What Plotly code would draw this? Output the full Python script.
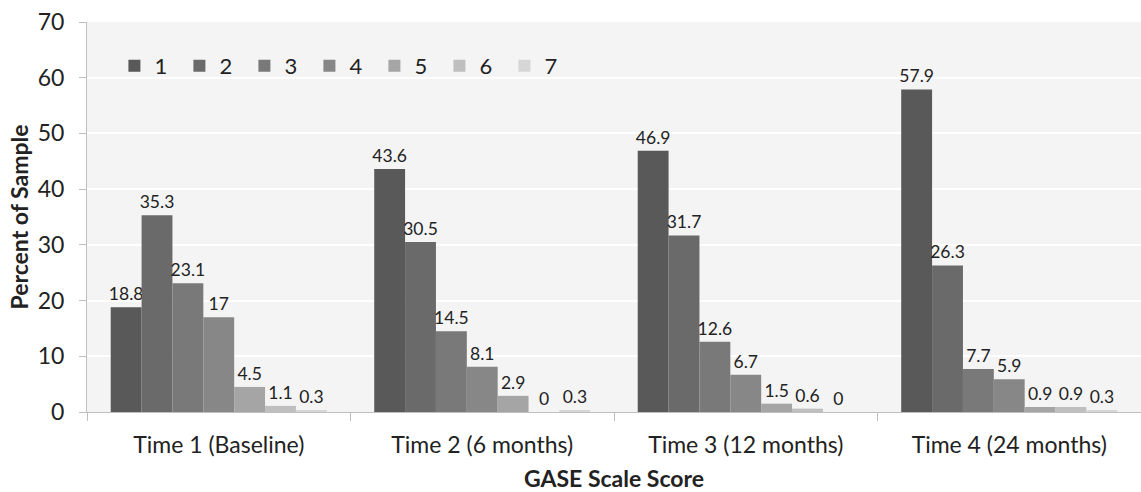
import plotly.graph_objects as go

categories = ["Time 1 (Baseline)", "Time 2 (6 months)", "Time 3 (12 months)", "Time 4 (24 months)"]
series_names = ["1", "2", "3", "4", "5", "6", "7"]
score1 = [18.8, 43.6, 46.9, 57.9]
score2 = [35.3, 30.5, 31.7, 26.3]
score3 = [23.1, 14.5, 12.6, 7.7]
score4 = [17, 8.1, 6.7, 5.9]
score5 = [4.5, 2.9, 1.5, 0.9]
score6 = [1.1, 0, 0.6, 0.9]
score7 = [0.3, 0.3, 0, 0.3]
series_values = [score1, score2, score3, score4, score5, score6, score7]
colors = ["#595959", "#6a6a6a", "#797979", "#878787", "#a5a5a5", "#bfbfbf", "#d6d6d6"]

FONT = "Lato"
fig = go.Figure()
for name, vals, col in zip(series_names, series_values, colors):
    fig.add_trace(go.Bar(
        x=categories, y=vals, name=name,
        marker=dict(color=col, line=dict(width=0)),
        text=[f"{v:g}" for v in vals], textposition="outside",
        textfont=dict(size=17.5, color="#222222", family=FONT),
        cliponaxis=False, constraintext="none", textangle=0,
    ))

fig.update_layout(
    width=1141, height=492,
    barmode="group", bargap=0.18, bargroupgap=0,
    paper_bgcolor="white", plot_bgcolor="#f4f4f4",
    margin=dict(l=87, r=0, t=22, b=80, autoexpand=False),
    font=dict(family=FONT, size=23, color="#222222"),
    showlegend=True,
    legend=dict(orientation="h", x=0.026, xanchor="left", y=0.887, yanchor="middle",
                bgcolor="rgba(0,0,0,0)", font=dict(size=22, family=FONT),
                entrywidth=20, itemwidth=30, traceorder="normal"),
    xaxis=dict(title=dict(text="<b>GASE Scale Score</b>", font=dict(size=23), standoff=16),
               tickson="boundaries", ticks="outside", ticklen=8, tickcolor="#bfbfbf",
               showline=True, linecolor="#bfbfbf", linewidth=1, showgrid=False,
               tickfont=dict(size=23), ticklabelstandoff=12, automargin=False),
    yaxis=dict(title=dict(text="<b>Percent of Sample</b>", font=dict(size=23), standoff=2),
               range=[0, 70], dtick=10, ticks="outside", ticklen=7, tickcolor="#bfbfbf",
               showline=True, linecolor="#bfbfbf", linewidth=1,
               gridcolor="white", gridwidth=1.5, zeroline=False,
               tickfont=dict(size=23), ticklabelstandoff=10, automargin=False),
)
fig.write_html("out.html", config={"displayModeBar": False},
               post_script="document.body.style.margin='0';")
